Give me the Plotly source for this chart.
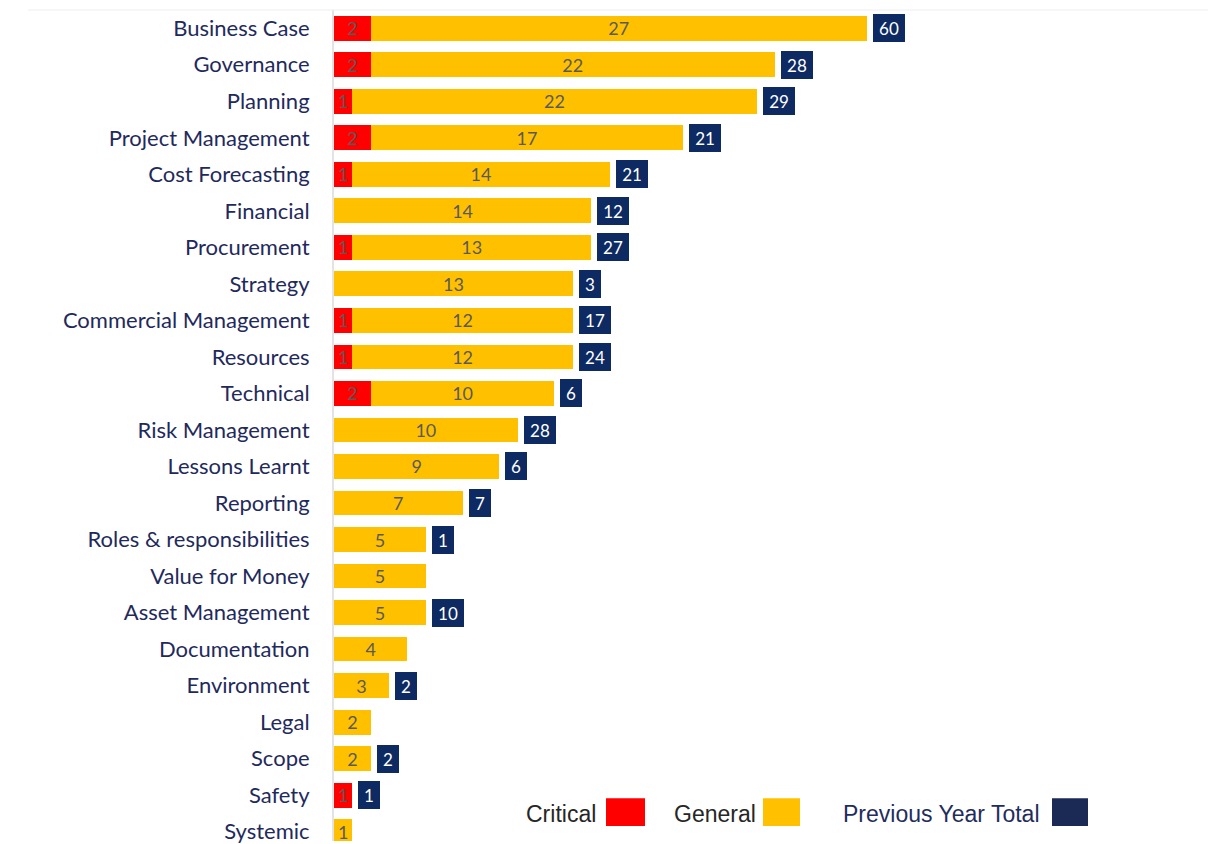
import plotly.graph_objects as go

categories = [
    "Business Case", "Governance", "Planning", "Project Management",
    "Cost Forecasting", "Financial", "Procurement", "Strategy",
    "Commercial Management", "Resources", "Technical", "Risk Management",
    "Lessons Learnt", "Reporting", "Roles & responsibilities",
    "Value for Money", "Asset Management", "Documentation", "Environment",
    "Legal", "Scope", "Safety", "Systemic",
]
critical = [2, 2, 1, 2, 1, 0, 1, 0, 1, 1, 2, 0, 0, 0, 0, 0, 0, 0, 0, 0, 0, 1, 0]
general = [27, 22, 22, 17, 14, 14, 13, 13, 12, 12, 10, 10, 9, 7, 5, 5, 5, 4, 3, 2, 2, 0, 1]
previous_year = [60, 28, 29, 21, 21, 12, 27, 3, 17, 24, 6, 28, 6, 7, 1, None, 10,
                 None, 2, None, 2, 1, None]

RED = "#FF0000"
YELLOW = "#FFC000"
NAVY = "#0E2A62"
LABEL_NAVY = "#1F2A5C"
VALUE_GREY = "#5A5A5A"

W, H = 1208, 844
M_L, M_T = 334, 10
plot_w, plot_h = W - M_L, H - M_T
px_per_unit = 18.37
row_px = 36.65

value_font = dict(family="Lato", size=18, color=VALUE_GREY)

fig = go.Figure()
fig.add_trace(go.Bar(
    y=categories, x=critical, orientation="h", name="Critical",
    marker=dict(color=RED, line=dict(width=0)),
    text=[str(v) if v else "" for v in critical],
    textposition="inside", insidetextanchor="middle", textangle=0,
    constraintext="none", textfont=value_font, cliponaxis=False,
))
fig.add_trace(go.Bar(
    y=categories, x=general, orientation="h", name="General",
    marker=dict(color=YELLOW, line=dict(width=0)),
    text=[str(v) if v else "" for v in general],
    textposition="inside", insidetextanchor="middle", textangle=0,
    constraintext="none", textfont=value_font, cliponaxis=False,
))

# Previous year totals as navy boxes just past the end of each bar
for cat, c, g, p in zip(categories, critical, general, previous_year):
    if p is None:
        continue
    fig.add_annotation(
        x=c + g, y=cat, xref="x", yref="y", text=str(p),
        xanchor="left", yanchor="middle", xshift=6, showarrow=False,
        font=dict(family="Lato", size=17, color="white"),
        bgcolor=NAVY, borderpad=5, borderwidth=0,
        width=22 if p >= 10 else 12, height=18, align="center",
    )

# Legend: label followed by a colour swatch
def px_x(x):
    return (x - M_L) / plot_w

def px_y(y):
    return (H - y) / plot_h

legend_items = [
    ("Critical", "#262626", RED, 598, 606, 645),
    ("General", "#262626", YELLOW, 758, 763, 800),
    ("Previous Year Total", "#1F2D5C", "#1B2A55", 1042, 1052, 1088),
]
for label, txt_col, sw_col, tx, sx0, sx1 in legend_items:
    fig.add_annotation(
        x=px_x(tx), y=px_y(817), xref="paper", yref="paper", text=label,
        xanchor="right", yanchor="middle", showarrow=False,
        font=dict(family="Liberation Sans", size=23, color=txt_col),
    )
    fig.add_shape(
        type="rect", xref="paper", yref="paper",
        x0=px_x(sx0), x1=px_x(sx1), y0=px_y(829), y1=px_y(801),
        fillcolor=sw_col, line=dict(width=0),
    )

# faint rule across the top
fig.add_shape(type="line", xref="paper", yref="paper", x0=-0.35, x1=1,
              y0=1, y1=1, line=dict(color="#EEEEEE", width=1))

n_rows_visible = plot_h / row_px
fig.update_layout(
    width=W, height=H, barmode="stack", bargap=0.32,
    margin=dict(l=M_L, r=0, t=M_T, b=0),
    plot_bgcolor="white", paper_bgcolor="white", showlegend=False,
    xaxis=dict(range=[0, plot_w / px_per_unit], visible=False),
    yaxis=dict(
        categoryorder="array", categoryarray=categories,
        range=[n_rows_visible - 0.5, -0.5],
        showgrid=False, zeroline=False,
        showline=True, linecolor="#E3E3E3", linewidth=2,
        ticks="outside", ticklen=18, tickcolor="rgba(0,0,0,0)",
        tickfont=dict(family="Lato", size=22, color=LABEL_NAVY),
    ),
)

fig.write_html("out.html")
